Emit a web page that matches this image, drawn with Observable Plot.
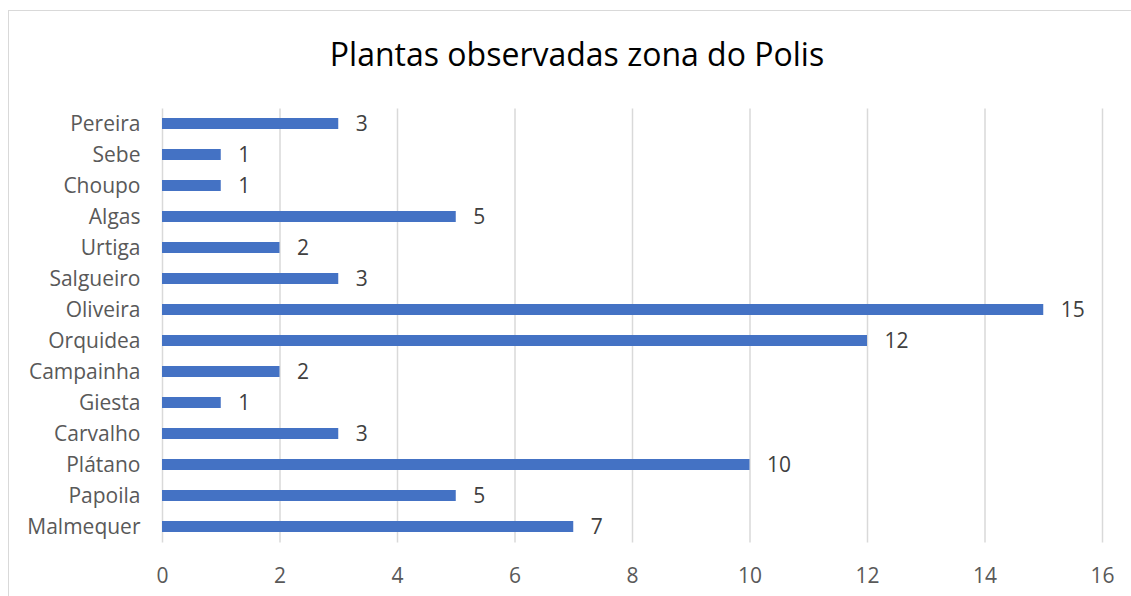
<!DOCTYPE html>
<html>
<head>
<meta charset="utf-8">
<script src="https://cdn.jsdelivr.net/npm/d3@7"></script>
<script src="https://cdn.jsdelivr.net/npm/@observablehq/plot@0.6"></script>
<style>
  html, body { margin: 0; padding: 0; background: #fff; }
  #wrap { position: relative; width: 1131px; height: 596px; overflow: hidden; font-family: "Open Sans", sans-serif; }
  #frame { position: absolute; left: 8px; top: 10px; width: 1140px; height: 620px; border: 1px solid #d9d9d9; box-sizing: border-box; }
  #title { position: absolute; left: 0; top: 29px; width: 1154px; text-align: center; font-size: 32px; line-height: 50px; color: #000; white-space: nowrap; }
  #chart { position: absolute; left: 0; top: 90px; }
</style>
</head>
<body>
<div id="wrap">
  <div id="frame"></div>
  <div id="title">Plantas observadas zona do Polis</div>
  <div id="chart"></div>
</div>
<script>
const categories = ["Malmequer","Papoila","Plátano","Carvalho","Giesta","Campainha","Orquidea","Oliveira","Salgueiro","Urtiga","Algas","Choupo","Sebe","Pereira"];
const values = [7,5,10,3,1,2,12,15,3,2,5,1,1,3];
const xTicks = [0,2,4,6,8,10,12,14,16];

const data = categories.map((name, i) => ({name, value: values[i]}));
const yOrder = categories.slice().reverse();

const chart = Plot.plot({
  width: 1131,
  height: 506,
  marginTop: 18.5,
  marginBottom: 53.5,
  marginLeft: 162,
  marginRight: 29,
  x: {domain: [0, 16]},
  y: {domain: yOrder, paddingInner: 0.645, paddingOuter: 0.3225},
  style: {fontFamily: "'Open Sans', sans-serif", fontSize: "21px", color: "#595959", background: "transparent", overflow: "visible"},
  marks: [
    Plot.ruleX(xTicks, {stroke: "#d9d9d9", strokeWidth: 1.5}),
    Plot.barX(data, {x: "value", y: "name", fill: "#4472c4"}),
    Plot.text(data, {x: "value", y: "name", text: d => String(d.value), textAnchor: "start", dx: 17, fill: "#404040"}),
    Plot.axisX({ticks: xTicks, tickSize: 0, tickPadding: 25, label: null, tickFormat: d => String(d)}),
    Plot.axisY({tickSize: 0, tickPadding: 22, label: null})
  ]
});
document.getElementById("chart").appendChild(chart);
</script>
</body>
</html>
